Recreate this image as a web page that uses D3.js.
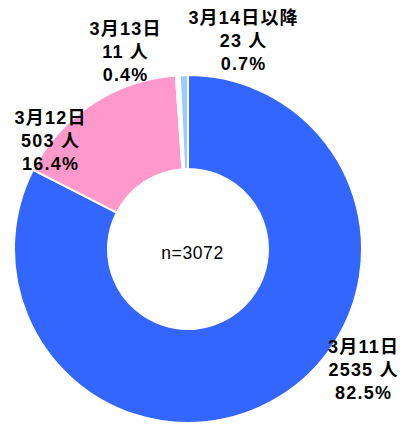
<!DOCTYPE html>
<html><head><meta charset="utf-8">
<script src="https://cdn.jsdelivr.net/npm/d3@7"></script>
<style>
html,body{margin:0;padding:0;background:#fff;}
svg{display:block;}
text{font-family:"Liberation Sans","Noto Sans CJK JP",sans-serif;fill:#000;}
</style></head>
<body>
<script>
const categories = ["3月11日", "3月12日", "3月13日", "3月14日以降"];
const counts = [2535, 503, 11, 23];
const percents = ["82.5%", "16.4%", "0.4%", "0.7%"];
const colors = ["#3366FF", "#FF99CC", "#FFFFFF", "#99CCFF"];
const totalLabel = "n=3072";

const W = 400, H = 426;
const cx = 188, cy = 249, rOuter = 174, rInner = 80;
// label anchor centers (layout only)
const labelPos = [[363, 370], [50, 141], [125, 52], [243, 41]];
const lineGap = 23;
const spacing = 1.2;

const svg = d3.select("body").append("svg").attr("width", W).attr("height", H);
const g = svg.append("g").attr("transform", `translate(${cx},${cy})`);

const data = categories.map((c, i) => ({cat: c, value: counts[i], pct: percents[i], color: colors[i]}));
const pie = d3.pie().value(d => d.value).sort(null).startAngle(0).endAngle(2 * Math.PI);
const arc = d3.arc().innerRadius(rInner).outerRadius(rOuter);

g.selectAll("path").data(pie(data)).join("path")
  .attr("d", arc)
  .attr("fill", d => d.data.color)
  .attr("stroke", "#fff")
  .attr("stroke-width", 2);

g.append("text").attr("x", 4.5).attr("y", 4)
  .attr("text-anchor", "middle").attr("dominant-baseline", "central")
  .style("font-size", "17.5px").style("letter-spacing", "0.6px")
  .text(totalLabel);

const lab = svg.selectAll("g.lab").data(data).join("g").attr("class", "lab")
  .attr("transform", (d, i) => `translate(${labelPos[i][0] + spacing / 2},${labelPos[i][1]})`);
lab.each(function(d) {
  const sel = d3.select(this);
  const lines = [d.cat, d.value + " 人", d.pct];
  lines.forEach((t, k) => {
    sel.append("text").attr("x", 0).attr("y", (k - 1) * lineGap)
      .attr("text-anchor", "middle").attr("dominant-baseline", "central")
      .style("font-size", "18px").style("font-weight", "bold").style("letter-spacing", spacing + "px")
      .text(t);
  });
});
</script>
</body></html>
